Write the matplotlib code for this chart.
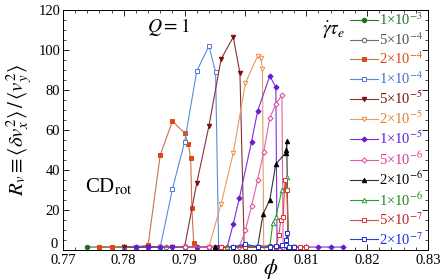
import matplotlib
matplotlib.use("Agg")
import matplotlib.pyplot as plt
from matplotlib.ticker import MultipleLocator

plt.rcParams['font.family'] = ['Liberation Serif', 'DejaVu Serif']
plt.rcParams['mathtext.fontset'] = 'stix'

labels = ["1×10$^{-3}$", "5×10$^{-4}$", "2×10$^{-4}$", "1×10$^{-4}$", "5×10$^{-5}$", "2×10$^{-5}$",
          "1×10$^{-5}$", "5×10$^{-6}$", "2×10$^{-6}$", "1×10$^{-6}$", "5×10$^{-7}$", "2×10$^{-7}$"]
xtick_labels = ["0.77", "0.78", "0.79", "0.80", "0.81", "0.82", "0.83"]
ytick_labels = ["0", "20", "40", "60", "80", "100", "120"]

phi_1e3 = [0.774, 0.780, 0.786, 0.790, 0.795, 0.800, 0.804, 0.806]
rv_1e3 = [1.5, 1.5, 1.5, 1.5, 1.5, 2.0, 2.0, 2.0]

phi_5e4 = [0.776, 0.782, 0.787, 0.790, 0.795, 0.800, 0.805, 0.808]
rv_5e4 = [1.5, 1.5, 1.5, 1.5, 1.5, 1.5, 2.0, 1.5]

phi_2e4 = [0.776, 0.778, 0.780, 0.782, 0.784, 0.786, 0.788, 0.790, 0.7906, 0.791, 0.7912, 0.7915,
           0.792, 0.794, 0.796, 0.798, 0.800]
rv_2e4 = [1.5, 1.5, 1.5, 1.5, 2.5, 47.5, 64.5, 58.5, 53.0, 46.0, 21.0, 3.5, 1.5, 1.5, 1.5, 1.5, 1.5]

phi_1e4 = [0.780, 0.782, 0.784, 0.786, 0.788, 0.790, 0.792, 0.794, 0.7951, 0.7956, 0.798, 0.800, 0.802]
rv_1e4 = [1.5, 1.5, 1.5, 1.5, 30.5, 54.0, 89.5, 102.0, 89.0, 1.5, 1.5, 1.5, 1.5]

phi_5e5 = [0.780, 0.784, 0.786, 0.788, 0.790, 0.792, 0.794, 0.796, 0.798, 0.7991, 0.7998,
           0.802, 0.804, 0.806]
rv_5e5 = [1.5, 1.5, 1.5, 1.5, 1.5, 33.5, 62.0, 95.5, 106.5, 88.5, 1.5, 1.5, 1.5, 1.5]

phi_2e5 = [0.786, 0.790, 0.792, 0.794, 0.796, 0.798, 0.800, 0.802, 0.8025, 0.8028, 0.803,
           0.804, 0.806, 0.808]
rv_2e5 = [1.5, 1.5, 1.5, 1.5, 23.0, 48.5, 83.5, 97.0, 96.0, 90.5, 1.5, 1.5, 1.5, 1.5]

phi_1e5 = [0.782, 0.784, 0.786, 0.788, 0.790, 0.792, 0.794, 0.7955, 0.797, 0.798, 0.799, 0.801,
           0.802, 0.804, 0.805, 0.8052, 0.806, 0.808, 0.810, 0.812, 0.814, 0.816]
rv_1e5 = [1.5, 1.5, 1.5, 1.5, 1.5, 1.5, 1.5, 1.5, 1.5, 13.0, 26.0, 54.0,
          69.5, 87.0, 81.5, 1.5, 1.5, 1.5, 1.5, 1.5, 1.5, 1.5]

phi_5e6 = [0.790, 0.794, 0.796, 0.798, 0.799, 0.800, 0.801, 0.802, 0.803, 0.804, 0.805, 0.806,
           0.8062, 0.807, 0.808, 0.810]
rv_5e6 = [1.5, 1.5, 1.5, 1.5, 1.5, 10.0, 22.0, 35.0, 49.0, 66.0, 73.0, 77.5, 1.5, 1.5, 1.5, 1.5]

phi_2e6 = [0.795, 0.798, 0.800, 0.802, 0.8029, 0.804, 0.805, 0.8066, 0.8067, 0.8068, 0.807,
           0.8075, 0.809]
rv_2e6 = [1.5, 1.5, 1.5, 1.5, 18.0, 25.0, 43.0, 48.5, 50.0, 54.5, 1.5, 1.5, 1.5]

phi_1e6 = [0.797, 0.800, 0.802, 0.804, 0.8045, 0.805, 0.806, 0.8066, 0.8068, 0.8071, 0.808]
rv_1e6 = [1.5, 1.5, 1.5, 1.5, 13.5, 16.5, 30.0, 31.5, 36.5, 1.5, 1.5]

phi_5e7 = [0.796, 0.798, 0.800, 0.802, 0.804, 0.805, 0.8055, 0.8058, 0.8062, 0.8065, 0.8068,
           0.8071, 0.808, 0.809, 0.810]
rv_5e7 = [1.5, 1.5, 1.5, 1.5, 1.5, 1.5, 7.5, 15.0, 16.5, 35.0, 30.0, 1.5, 1.5, 1.5, 1.5]

phi_2e7 = [0.798, 0.800, 0.802, 0.804, 0.805, 0.806, 0.8066, 0.8067, 0.8068, 0.8071, 0.808]
rv_2e7 = [1.5, 3.0, 1.5, 1.5, 2.0, 2.5, 2.5, 5.0, 8.5, 1.5, 1.5]

xs = [phi_1e3, phi_5e4, phi_2e4, phi_1e4, phi_5e5, phi_2e5, phi_1e5, phi_5e6, phi_2e6, phi_1e6, phi_5e7, phi_2e7]
ys = [rv_1e3, rv_5e4, rv_2e4, rv_1e4, rv_5e5, rv_2e5, rv_1e5, rv_5e6, rv_2e6, rv_1e6, rv_5e7, rv_2e7]

# (line color, marker, marker face, marker edge, text color)
styles = [
    ("#2a7a2a", "o", "#1e6e1e", "#1e6e1e", "#1e7a1e"),
    ("#707070", "o", "white", "#606060", "#505050"),
    ("#c87050", "s", "#e04810", "#e04810", "#d84a10"),
    ("#5a8ae0", "s", "white", "#4a7ad8", "#3a70d8"),
    ("#8a3030", "v", "#800c0c", "#800c0c", "#7a1010"),
    ("#e89a60", "v", "white", "#f08a40", "#e08030"),
    ("#7a30d8", "D", "#6a18d8", "#6a18d8", "#6a18d8"),
    ("#e060a8", "D", "white", "#e0409a", "#d83890"),
    ("#333333", "^", "black", "black", "black"),
    ("#2a9a2a", "^", "white", "#2a9a2a", "#1e8a1e"),
    ("#e04848", "s", "white", "#e03030", "#c02020"),
    ("#2a40e0", "s", "white", "#1a30e0", "#1a30e0"),
]

fig = plt.figure(figsize=(4.43, 2.80), dpi=100)
ax = fig.add_axes([0.142, 0.107, 0.824, 0.857])

handles = []
for x, y, (lc, mk, mf, me, tc), lab in zip(xs, ys, styles, labels):
    ms = 3.2 if mk != "D" else 2.6
    h, = ax.plot(x, y, color=lc, lw=0.8, marker=mk, ms=ms, mfc=mf, mec=me, mew=0.7, label=lab)
    handles.append(h)

ax.set_xlim(0.77, 0.83)
ax.set_ylim(0, 120)
ax.xaxis.set_minor_locator(MultipleLocator(0.002))
ax.yaxis.set_minor_locator(MultipleLocator(5))
ax.set_xticks([float(s) for s in xtick_labels])
ax.set_xticklabels(xtick_labels)
ax.set_yticks([float(s) for s in ytick_labels])
# the "0" label is drawn separately, slightly raised, so it does not collide with "0.77"
ax.set_yticklabels([""] + ytick_labels[1:])
ax.tick_params(which='both', direction='in', top=True, right=True, labelsize=10.5, pad=2)
ax.tick_params(axis='x', which='major', pad=3)
ax.tick_params(which='major', length=4, width=0.6)
ax.tick_params(which='minor', length=2, width=0.5)
for s in ax.spines.values():
    s.set_linewidth(0.7)
ax.text(-0.013, 0.022, ytick_labels[0], transform=ax.transAxes, fontsize=10.5, ha='right', va='center')

ax.set_ylabel(r"$R_v \equiv \langle \delta v_x^2\rangle\,/\,\langle v_y^2\rangle$", fontsize=15, labelpad=2)
ax.text(0.57, -0.03, r"$\phi$", transform=ax.transAxes, fontsize=16, ha='center', va='top')
ax.text(0.29, 0.93, r"$Q = 1$", transform=ax.transAxes, fontsize=14, ha='center', va='center')
ax.text(0.125, 0.265, r"CD$_{\mathrm{rot}}$", transform=ax.transAxes, fontsize=15, ha='center', va='center')
ax.text(0.742, 0.915, r"$\dot{\gamma}\tau_e$", transform=ax.transAxes, fontsize=14, ha='center', va='center')

leg = ax.legend(handles=handles, loc='upper right', bbox_to_anchor=(1.012, 1.03), frameon=False,
                fontsize=10.5, handlelength=1.9, handletextpad=0.1, labelspacing=0.2,
                borderaxespad=0.2)
for t, st in zip(leg.get_texts(), styles):
    t.set_color(st[4])

fig.savefig("out.png", dpi=100)
